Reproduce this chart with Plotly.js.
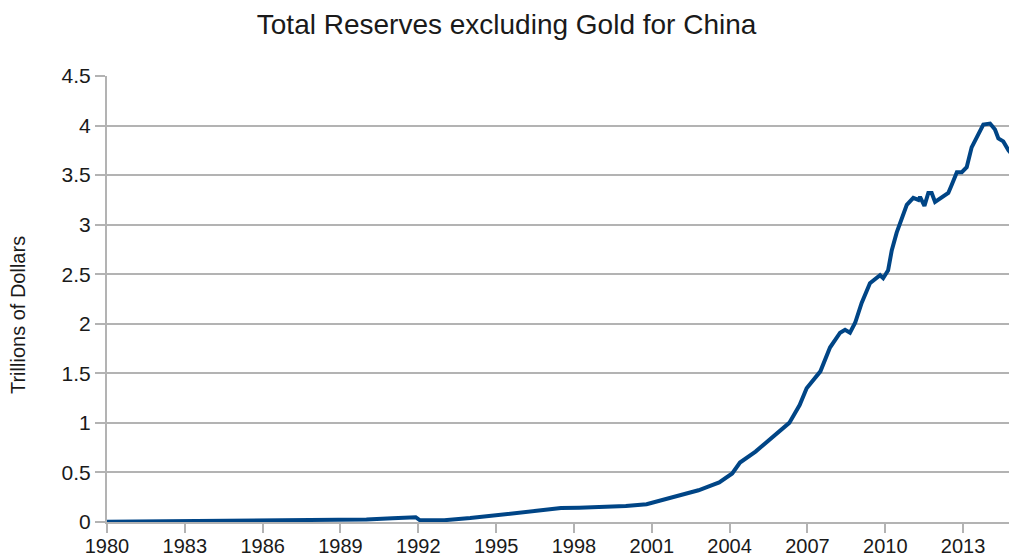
<!DOCTYPE html>
<html>
<head>
<meta charset="utf-8">
<script src="https://cdn.plot.ly/plotly-3.0.1.min.js"></script>
<style>
html,body{margin:0;padding:0;background:#fff;}
#chart{width:1009px;height:560px;}
</style>
</head>
<body>
<div id="chart"></div>
<script>
const years = [1980.0,1981.0,1982.0,1983.0,1984.0,1985.0,1986.0,1987.0,1988.0,1989.0,1990.0,1991.0,1991.9,1992.05,1993.0,1994.0,1995.0,1996.0,1997.0,1997.5,1998.2,1999.0,1999.5,2000.0,2000.8,2001.3,2002.0,2002.8,2003.3,2003.6,2004.1,2004.4,2005.0,2005.7,2006.3,2006.7,2006.97,2007.5,2007.87,2008.26,2008.45,2008.64,2008.84,2009.09,2009.41,2009.8,2009.92,2010.11,2010.25,2010.44,2010.64,2010.83,2011.08,2011.28,2011.34,2011.51,2011.66,2011.79,2011.92,2012.18,2012.43,2012.56,2012.76,2012.95,2013.14,2013.33,2013.59,2013.78,2014.04,2014.23,2014.36,2014.55,2014.75,2014.85];
const reserves = [0.003,0.005,0.008,0.012,0.015,0.012,0.010,0.013,0.017,0.016,0.025,0.038,0.048,0.020,0.018,0.040,0.070,0.090,0.125,0.140,0.145,0.152,0.155,0.162,0.180,0.215,0.260,0.320,0.370,0.400,0.490,0.600,0.710,0.860,1.00,1.18,1.35,1.52,1.76,1.91,1.94,1.91,2.01,2.21,2.41,2.49,2.46,2.54,2.74,2.92,3.08,3.20,3.27,3.25,3.28,3.19,3.32,3.32,3.23,3.28,3.32,3.40,3.53,3.53,3.58,3.78,3.92,4.01,4.02,3.96,3.87,3.84,3.75,3.72];
const xTicks = [1980,1983,1986,1989,1992,1995,1998,2001,2004,2007,2010,2013];
const yTicks = [0,0.5,1,1.5,2,2.5,3,3.5,4,4.5];
const yTickText = ['0','0.5','1','1.5','2','2.5','3','3.5','4','4.5'];
const titleText = 'Total Reserves excluding Gold for China';
const yTitleText = 'Trillions of Dollars';

const trace = {
  x: years, y: reserves, type: 'scatter', mode: 'lines',
  line: {color: '#004586', width: 4},
  hoverinfo: 'x+y'
};
const grid = '#b3b3b3';
const layout = {
  width: 1009, height: 560,
  margin: {l: 107, r: 0, t: 76, b: 38},
  paper_bgcolor: '#ffffff', plot_bgcolor: '#ffffff',
  font: {family: 'Liberation Sans, Arial, sans-serif', color: '#1a1a1a'},
  showlegend: false,
  title: {text: titleText, font: {size: 28, color: '#1a1a1a'},
          xref: 'paper', x: 0.443, xanchor: 'center', yref: 'container', y: 0.957, yanchor: 'middle'},
  xaxis: {
    range: [1980, 2014.77], tickmode: 'array', tickvals: xTicks, ticktext: xTicks.map(String),
    showgrid: false, zeroline: false, showline: true, linecolor: grid, linewidth: 2,
    ticks: 'outside', ticklen: 9, tickwidth: 2, tickcolor: grid,
    tickfont: {size: 20, color: '#1a1a1a'}, ticklabelstandoff: -4
  },
  yaxis: {
    range: [0, 4.5], tickmode: 'array', tickvals: yTicks, ticktext: yTickText,
    showgrid: true, gridcolor: grid, gridwidth: 2, zeroline: false,
    showline: true, linecolor: grid, linewidth: 2,
    ticks: 'outside', ticklen: 10, tickwidth: 2, tickcolor: grid,
    tickfont: {size: 21, color: '#1a1a1a'}
  },
  annotations: [{
    text: yTitleText, textangle: -90, showarrow: false,
    xref: 'paper', yref: 'paper', x: -0.0987, y: 0.464, xanchor: 'center', yanchor: 'middle',
    font: {size: 20, color: '#1a1a1a'}
  }]
};
Plotly.newPlot('chart', [trace], layout, {displayModeBar: false, staticPlot: true});
</script>
</body>
</html>
